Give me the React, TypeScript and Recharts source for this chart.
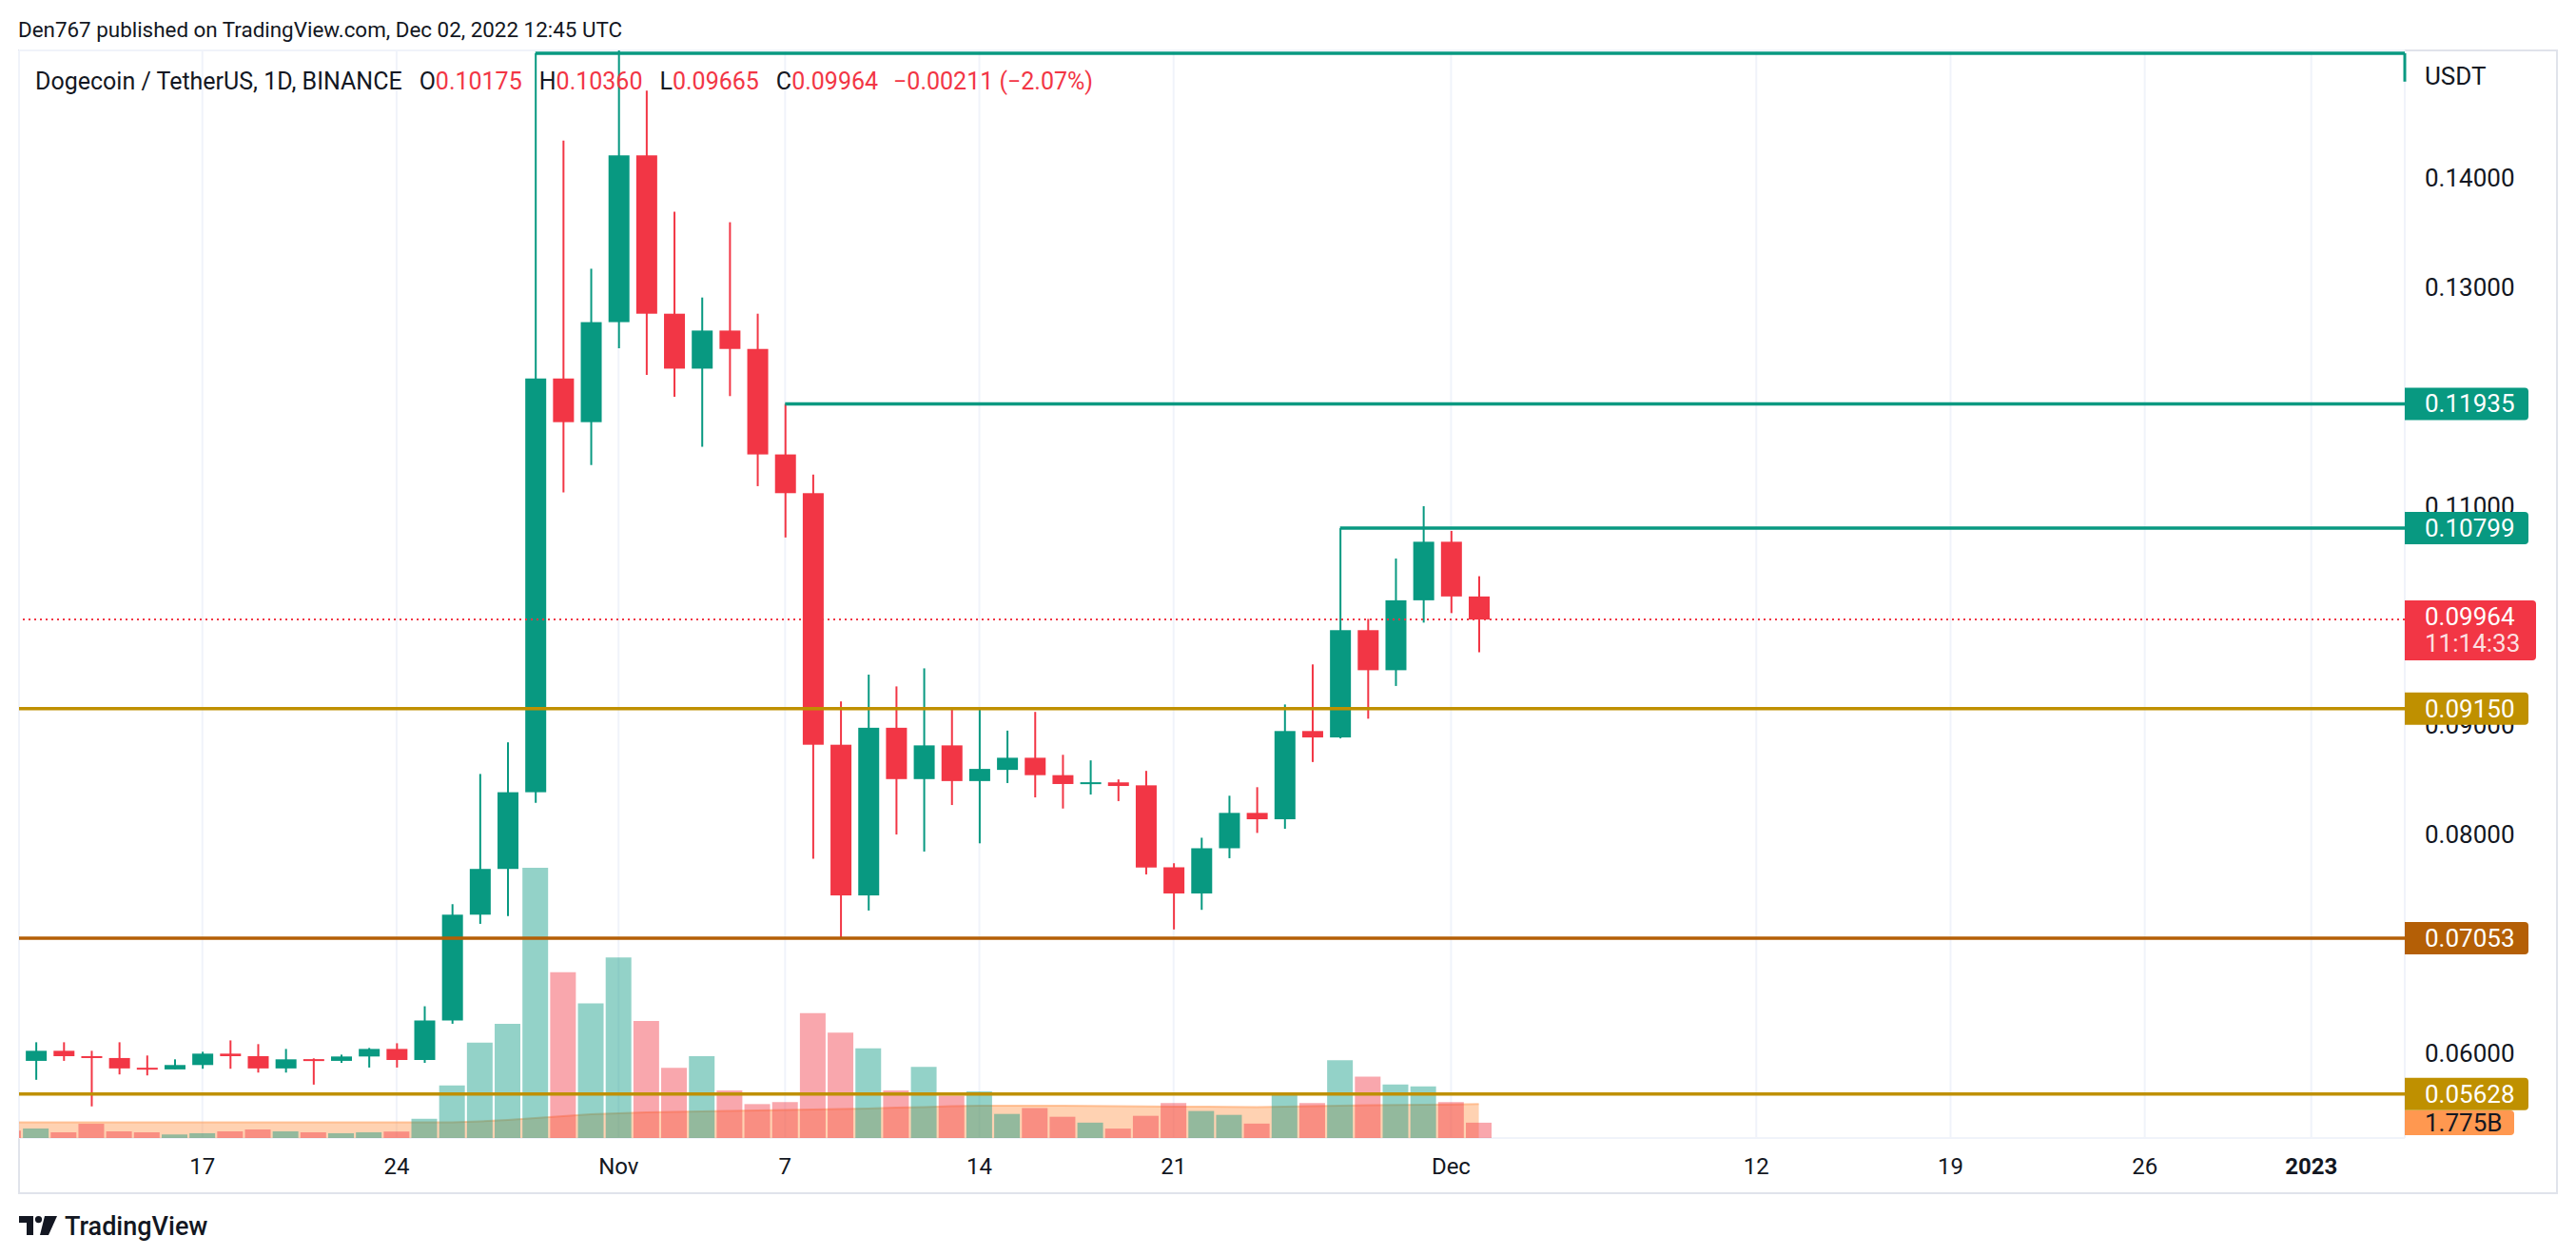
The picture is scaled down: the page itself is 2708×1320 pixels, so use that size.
import React from 'react';
import {
  ComposedChart,
  Bar,
  Area,
  XAxis,
  YAxis,
  CartesianGrid,
  ReferenceLine,
  Cell,
} from 'recharts';

// DOGE/USDT daily candles, Oct 10 - Dec 2 2022
const days = [
  'Oct 10', 'Oct 11', 'Oct 12', 'Oct 13', 'Oct 14', 'Oct 15', 'Oct 16', 'Oct 17', 'Oct 18', 'Oct 19',
  'Oct 20', 'Oct 21', 'Oct 22', 'Oct 23', 'Oct 24', 'Oct 25', 'Oct 26', 'Oct 27', 'Oct 28', 'Oct 29',
  'Oct 30', 'Oct 31', 'Nov 1', 'Nov 2', 'Nov 3', 'Nov 4', 'Nov 5', 'Nov 6', 'Nov 7', 'Nov 8',
  'Nov 9', 'Nov 10', 'Nov 11', 'Nov 12', 'Nov 13', 'Nov 14', 'Nov 15', 'Nov 16', 'Nov 17', 'Nov 18',
  'Nov 19', 'Nov 20', 'Nov 21', 'Nov 22', 'Nov 23', 'Nov 24', 'Nov 25', 'Nov 26', 'Nov 27', 'Nov 28',
  'Nov 29', 'Nov 30', 'Dec 1', 'Dec 2',
];
const opens = [
  0.0611, 0.05931, 0.06023, 0.05974, 0.05957, 0.05866, 0.05853, 0.05893, 0.05997, 0.05974,
  0.05862, 0.05945, 0.05931, 0.05971, 0.0604, 0.05939, 0.063, 0.07267, 0.07685, 0.08386,
  0.12167, 0.11768, 0.12682, 0.14206, 0.12759, 0.12257, 0.12605, 0.12437, 0.11473, 0.11119,
  0.0882, 0.07443, 0.08975, 0.08506, 0.08814, 0.08488, 0.0859, 0.08701, 0.08542, 0.08461,
  0.08476, 0.08449, 0.077, 0.07461, 0.07874, 0.08197, 0.08139, 0.08945, 0.08887, 0.09867,
  0.09501, 0.1014, 0.10675, 0.10175,
];
const highs = [
  0.0615, 0.06101, 0.06101, 0.06023, 0.06101, 0.0598, 0.05945, 0.06014, 0.06118, 0.06084,
  0.0604, 0.05954, 0.05988, 0.06049, 0.06092, 0.0643, 0.07363, 0.08553, 0.08842, 0.1514,
  0.14341, 0.1317, 0.1574, 0.14797, 0.13691, 0.12907, 0.13595, 0.12759, 0.11935, 0.1129,
  0.09216, 0.09461, 0.09353, 0.09518, 0.0915, 0.0914, 0.08949, 0.0912, 0.08728, 0.08677,
  0.08503, 0.08581, 0.07737, 0.0797, 0.08354, 0.08432, 0.09188, 0.09554, 0.10799, 0.0997,
  0.10522, 0.11, 0.10774, 0.1036,
];
const lows = [
  0.059, 0.05758, 0.05931, 0.05515, 0.05807, 0.05798, 0.05853, 0.05859, 0.05859, 0.05824,
  0.05824, 0.05714, 0.05913, 0.0587, 0.0587, 0.05913, 0.0627, 0.07183, 0.07254, 0.08289,
  0.11125, 0.11376, 0.12444, 0.12199, 0.12, 0.11543, 0.12006, 0.11183, 0.10714, 0.07778,
  0.07053, 0.07305, 0.08, 0.07844, 0.08269, 0.07919, 0.0847, 0.08339, 0.08237, 0.08365,
  0.08305, 0.07635, 0.07132, 0.07311, 0.07783, 0.08014, 0.08052, 0.08662, 0.08878, 0.09058,
  0.09357, 0.09936, 0.10023, 0.09665,
];
const closes = [
  0.0593, 0.06023, 0.05974, 0.05957, 0.05862, 0.05853, 0.05893, 0.05997, 0.05974, 0.05862,
  0.05945, 0.05931, 0.05971, 0.0604, 0.05939, 0.063, 0.07267, 0.07685, 0.08386, 0.12167,
  0.11768, 0.12682, 0.14206, 0.12759, 0.12257, 0.12605, 0.12437, 0.11473, 0.11119, 0.0882,
  0.07443, 0.08975, 0.08506, 0.08814, 0.08488, 0.08599, 0.08701, 0.08542, 0.08461, 0.08476,
  0.08443, 0.07698, 0.07461, 0.07874, 0.08197, 0.08139, 0.08945, 0.08887, 0.09867, 0.09501,
  0.1014, 0.10675, 0.10175, 0.09964,
];
// volume, billions of DOGE
const volumes = [
  0.85, 1.1, 0.66, 1.65, 0.77, 0.66, 0.41, 0.55, 0.77, 0.99,
  0.77, 0.66, 0.55, 0.66, 0.75, 2.23, 6.08, 11.06, 13.22, 31.3,
  19.22, 15.59, 20.92, 13.55, 8.12, 9.48, 5.51, 3.93, 4.16, 14.47,
  12.2, 10.39, 5.51, 8.24, 4.91, 5.4, 2.79, 3.47, 2.46, 1.78,
  1.09, 2.57, 4.04, 3.13, 2.68, 1.67, 5.28, 4.04, 9.02, 7.1,
  6.2, 5.97, 4.16, 1.775,
];
const volumeMa = [
  1.82, 1.82, 1.82, 1.82, 1.82, 1.82, 1.82, 1.82, 1.82, 1.82,
  1.82, 1.82, 1.82, 1.82, 1.82, 1.82, 1.82, 1.93, 2.1, 2.32,
  2.54, 2.76, 2.87, 2.98, 3.03, 3.09, 3.14, 3.2, 3.25, 3.31,
  3.36, 3.42, 3.53, 3.58, 3.7, 3.75, 3.75, 3.75, 3.75, 3.73,
  3.7, 3.67, 3.64, 3.64, 3.61, 3.58, 3.64, 3.7, 3.75, 3.81,
  3.83, 3.86, 3.89, 3.93,
];

// day offsets from Oct 11 and their labels on the time scale
const timeTicks = [6, 13, 21, 27, 34, 41, 51, 62, 69, 76, 82];
const timeLabels = ['17', '24', 'Nov', '7', '14', '21', 'Dec', '12', '19', '26', '2023'];
const priceTicks = [0.06, 0.07, 0.08, 0.09, 0.1, 0.11, 0.12, 0.13, 0.14, 0.15];
// scale labels that are not hidden under a price tag
const priceLabels = [0.06, 0.08, 0.09, 0.11, 0.13, 0.14];

const X_DOMAIN: [number, number] = [-0.607, 85.37];
const PRICE_DOMAIN: [number, number] = [0.05226, 0.15165];
const VOL_DOMAIN: [number, number] = [0, 126];

const UP = '#089981';
const DOWN = '#F23645';
const GOLD = '#BF9000';
const BROWN = '#B45F06';
const TEXT = '#131722';
const FONT = 'Roboto, "Noto Sans", sans-serif';

const rows = days.map((d, i) => ({
  day: d,
  t: i - 1,
  body: [Math.min(opens[i], closes[i]), Math.max(opens[i], closes[i])],
  wick: [lows[i], highs[i]],
  vol: volumes[i],
  ma: volumeMa[i],
  up: closes[i] >= opens[i],
}));

const CandleBody = (props: any) => {
  const { x, y, width, height, payload } = props;
  const h = Math.max(height, 2);
  const top = height < 2 ? y + height / 2 - 1 : y;
  return <rect x={x} y={top} width={width} height={h} fill={payload.up ? UP : DOWN} />;
};

function priceTag(text: string, bg: string, opts: { sub?: string; w?: number; color?: string; h?: number } = {}) {
  const { sub, w = 130, color = '#fff', h = 34 } = opts;
  return (props: any) => {
    const vb = props.viewBox;
    const left = vb.x + vb.width;
    const y = vb.y;
    const hh = sub ? 63 : h;
    const top = sub ? y - 20 : y - hh / 2;
    const r = 4;
    const right = left + w;
    return (
      <g>
        <path
          d={`M${left},${top} H${right - r} Q${right},${top} ${right},${top + r} V${top + hh - r} Q${right},${top + hh} ${right - r},${top + hh} H${left} Z`}
          fill={bg}
        />
        <text x={left + 21} y={sub ? y - 3 : y} dominantBaseline="central" fill={color} fontSize={26} fontFamily={FONT}>
          {text}
        </text>
        {sub && (
          <text x={left + 21} y={y + 25} dominantBaseline="central" fill="rgba(255,255,255,0.85)" fontSize={26} fontFamily={FONT}>
            {sub}
          </text>
        )}
      </g>
    );
  };
}

// plain scale label, drawn in the same layer as the tags so the tags can cover it
function scaleLabel(value: number) {
  return (props: any) => {
    const vb = props.viewBox;
    return (
      <text x={vb.x + vb.width + 21} y={vb.y} dominantBaseline="central" fill={TEXT} fontSize={26} fontFamily={FONT}>
        {value.toFixed(5)}
      </text>
    );
  };
}

const TimeTick = (props: any) => {
  const { x, y, payload } = props;
  const idx = timeTicks.indexOf(payload.value);
  const label = timeLabels[idx];
  return (
    <text
      x={x}
      y={y + 30}
      textAnchor="middle"
      dominantBaseline="central"
      fill={TEXT}
      fontSize={24}
      fontWeight={label === '2023' ? 700 : 400}
      fontFamily={FONT}
    >
      {label}
    </text>
  );
};

const Logo = () => (
  <svg width={40} height={22} viewBox="0 0 40 22" style={{ display: 'block' }}>
    <path d="M0 0 H15 V20 H8 V7 H0 Z" fill={TEXT} />
    <circle cx={20.5} cy={3.6} r={3.6} fill={TEXT} />
    <path d="M27 0 H40 L31 20 H22 Z" fill={TEXT} />
  </svg>
);

export default function App() {
  const legendVal = { color: DOWN };
  return (
    <div
      style={{
        position: 'absolute',
        left: 0,
        top: 0,
        width: 2708,
        height: 1320,
        background: '#fff',
        overflow: 'hidden',
        fontFamily: FONT,
        color: TEXT,
      }}
    >
      <div style={{ position: 'absolute', left: 19, top: 17, fontSize: 22.4, lineHeight: '28px', whiteSpace: 'nowrap' }}>
        Den767 published on TradingView.com, Dec 02, 2022 12:45 UTC
      </div>

      {/* outer frame */}
      <div
        style={{
          position: 'absolute',
          left: 19,
          top: 52,
          width: 2670,
          height: 1203,
          border: '2px solid #E0E3EB',
          boxSizing: 'border-box',
        }}
      />

      <div style={{ position: 'absolute', left: 0, top: 0 }}>
        <ComposedChart width={2688} height={1254} data={rows} margin={{ top: 53, right: 0, bottom: 0, left: 20 }}>
          <CartesianGrid xAxisId="main" yAxisId="price" stroke="#F0F3FA" strokeWidth={2} />
          <XAxis
            xAxisId="main"
            dataKey="t"
            type="number"
            domain={X_DOMAIN}
            allowDataOverflow
            ticks={timeTicks}
            interval={0}
            height={58}
            tickSize={0}
            tickMargin={0}
            axisLine={false}
            tickLine={false}
            tick={<TimeTick />}
          />
          <XAxis xAxisId="wick" dataKey="t" type="number" domain={X_DOMAIN} allowDataOverflow ticks={timeTicks} hide />
          <XAxis xAxisId="vol" dataKey="t" type="number" domain={X_DOMAIN} allowDataOverflow ticks={timeTicks} hide />
          <YAxis
            yAxisId="price"
            orientation="right"
            domain={PRICE_DOMAIN}
            allowDataOverflow
            ticks={priceTicks}
            interval={0}
            width={160}
            axisLine={false}
            tickLine={false}
            tick={false}
          />
          <YAxis yAxisId="vol" domain={VOL_DOMAIN} allowDataOverflow hide />

          <Bar xAxisId="vol" yAxisId="vol" dataKey="vol" barSize={27} isAnimationActive={false}>
            {rows.map((r, i) => (
              <Cell key={`v-${i}`} fill={r.up ? 'rgba(8,153,129,0.44)' : 'rgba(242,54,69,0.44)'} />
            ))}
          </Bar>
          <Area
            xAxisId="vol"
            yAxisId="vol"
            dataKey="ma"
            type="linear"
            stroke="#FF9850"
            strokeOpacity={0.5}
            strokeWidth={2}
            fill="#FF9850"
            fillOpacity={0.44}
            dot={false}
            activeDot={false}
            isAnimationActive={false}
          />
          <Bar xAxisId="wick" yAxisId="price" dataKey="wick" barSize={2} isAnimationActive={false}>
            {rows.map((r, i) => (
              <Cell key={`w-${i}`} fill={r.up ? UP : DOWN} />
            ))}
          </Bar>
          <Bar xAxisId="main" yAxisId="price" dataKey="body" barSize={22} shape={<CandleBody />} isAnimationActive={false} />

          {/* price scale labels */}
          {priceLabels.map((p) => (
            <ReferenceLine
              key={`pl-${p}`}
              xAxisId="main"
              yAxisId="price"
              y={p}
              strokeOpacity={0}
              label={scaleLabel(p)}
            />
          ))}

          {/* drawn rays */}
          <ReferenceLine
            xAxisId="main"
            yAxisId="price"
            segment={[{ x: 18, y: 0.1514 }, { x: X_DOMAIN[1], y: 0.1514 }]}
            stroke={UP}
            strokeWidth={3.5}
          />
          <ReferenceLine
            xAxisId="main"
            yAxisId="price"
            segment={[{ x: X_DOMAIN[1], y: 0.1514 }, { x: X_DOMAIN[1], y: 0.1488 }]}
            stroke={UP}
            strokeWidth={3}
          />
          <ReferenceLine
            xAxisId="main"
            yAxisId="vol"
            y={1.775}
            strokeOpacity={0}
            label={priceTag('1.775B', '#FF9850', { w: 115, color: TEXT, h: 26 })}
          />
          <ReferenceLine
            xAxisId="main"
            yAxisId="price"
            segment={[{ x: 27, y: 0.11935 }, { x: X_DOMAIN[1], y: 0.11935 }]}
            stroke={UP}
            strokeWidth={3.5}
            label={priceTag('0.11935', UP)}
          />
          <ReferenceLine
            xAxisId="main"
            yAxisId="price"
            segment={[{ x: 47, y: 0.10799 }, { x: X_DOMAIN[1], y: 0.10799 }]}
            stroke={UP}
            strokeWidth={3.5}
            label={priceTag('0.10799', UP)}
          />
          <ReferenceLine
            xAxisId="main"
            yAxisId="price"
            y={0.09964}
            stroke={DOWN}
            strokeWidth={2}
            strokeDasharray="2 4"
            label={priceTag('0.09964', DOWN, { sub: '11:14:33', w: 138 })}
          />
          <ReferenceLine
            xAxisId="main"
            yAxisId="price"
            y={0.0915}
            stroke={GOLD}
            strokeWidth={3.5}
            label={priceTag('0.09150', GOLD)}
          />
          <ReferenceLine
            xAxisId="main"
            yAxisId="price"
            y={0.07053}
            stroke={BROWN}
            strokeWidth={3.5}
            label={priceTag('0.07053', BROWN)}
          />
          <ReferenceLine
            xAxisId="main"
            yAxisId="price"
            y={0.05628}
            stroke={GOLD}
            strokeWidth={3.5}
            label={priceTag('0.05628', GOLD)}
          />
        </ComposedChart>
      </div>

      {/* legend */}
      <div
        style={{
          position: 'absolute',
          left: 37,
          top: 70,
          fontSize: 25,
          lineHeight: '32px',
          whiteSpace: 'nowrap',
          display: 'flex',
        }}
      >
        <span>Dogecoin / TetherUS, 1D, BINANCE</span>
        <span style={{ marginLeft: 18 }}>
          O<span style={legendVal}>0.10175</span>
        </span>
        <span style={{ marginLeft: 18 }}>
          H<span style={legendVal}>0.10360</span>
        </span>
        <span style={{ marginLeft: 18 }}>
          L<span style={legendVal}>0.09665</span>
        </span>
        <span style={{ marginLeft: 18 }}>
          C<span style={legendVal}>0.09964</span>
        </span>
        <span style={{ marginLeft: 16, color: DOWN }}>−0.00211 (−2.07%)</span>
      </div>

      <div style={{ position: 'absolute', left: 2549, top: 65, fontSize: 26, lineHeight: '30px' }}>USDT</div>

      {/* footer logo */}
      <div style={{ position: 'absolute', left: 20, top: 1272, display: 'flex', alignItems: 'center' }}>
        <Logo />
        <span style={{ marginLeft: 8, fontSize: 27, fontWeight: 500, lineHeight: '34px' }}>TradingView</span>
      </div>
    </div>
  );
}
